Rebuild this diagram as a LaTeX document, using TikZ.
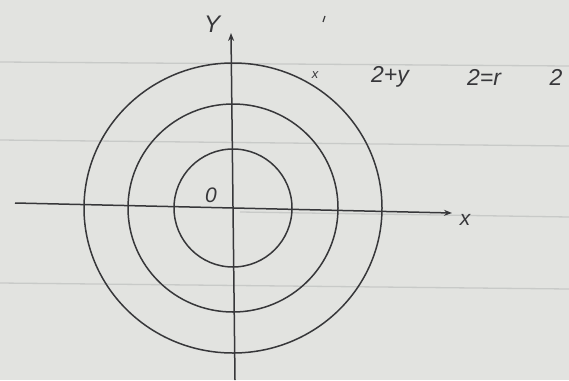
\documentclass[tikz,border=0pt]{standalone}
\usepackage{fontspec}
\setmainfont{Liberation Sans}
\usetikzlibrary{arrows.meta}
\definecolor{paper}{RGB}{226,227,224}
\definecolor{rule}{RGB}{200,202,200}
\definecolor{ink}{RGB}{55,55,58}
\begin{document}
\begin{tikzpicture}[x=1pt,y=-1pt,
  ink line/.style={draw=ink,line width=1.5pt},
  paper rule/.style={draw=rule,line width=1.3pt},
  hand/.style={text=ink,font=\itshape\fontsize{23}{26}\selectfont,inner sep=1pt}]
\fill[paper] (0,0) rectangle (569,380);
\useasboundingbox (0,0) rectangle (569,380);
% ruled lines of the paper
\draw[paper rule] (0,62) -- (569,66);
\draw[paper rule] (0,140) -- (569,146);
\draw[paper rule] (240,212) -- (569,217);
\draw[paper rule] (0,283) -- (569,289);
% centre
\coordinate (O) at (233,208);
% circles
\draw[ink line] (O) ellipse [x radius=59, y radius=59];
\draw[ink line] (O) ellipse [x radius=105, y radius=104];
\draw[ink line] (O) ellipse [x radius=149, y radius=145];
% axes
\coordinate (xa) at (15,203);
\coordinate (xb) at (452,213);
\coordinate (ya) at (235,380);
\coordinate (yb) at (231,33);
\draw[ink line,-{Stealth[length=8pt,width=6pt]}] (xa) -- (xb);
\draw[ink line,-{Stealth[length=8pt,width=6pt]}] (ya) -- (yb);
% labels
\node[hand,font=\itshape\fontsize{24}{26}\selectfont] (ylab) at (212,24) {Y};
\node[hand,font=\itshape\fontsize{21}{24}\selectfont] (xlab) at (465,220) {x};
\node[hand,font=\itshape\fontsize{21}{24}\selectfont] (olab) at (211,195) {0};
\node[hand,font=\itshape\fontsize{13}{15}\selectfont] (xmark) at (315,75) {x};
\node[hand] (t1) at (390,77) {2+y};
\node[hand] (t2) at (484,77) {2=r};
\node[hand] (t3) at (556,77) {2};
\draw[ink line,line width=1.2pt] (323,22) -- (325,16);
\end{tikzpicture}
\end{document}
